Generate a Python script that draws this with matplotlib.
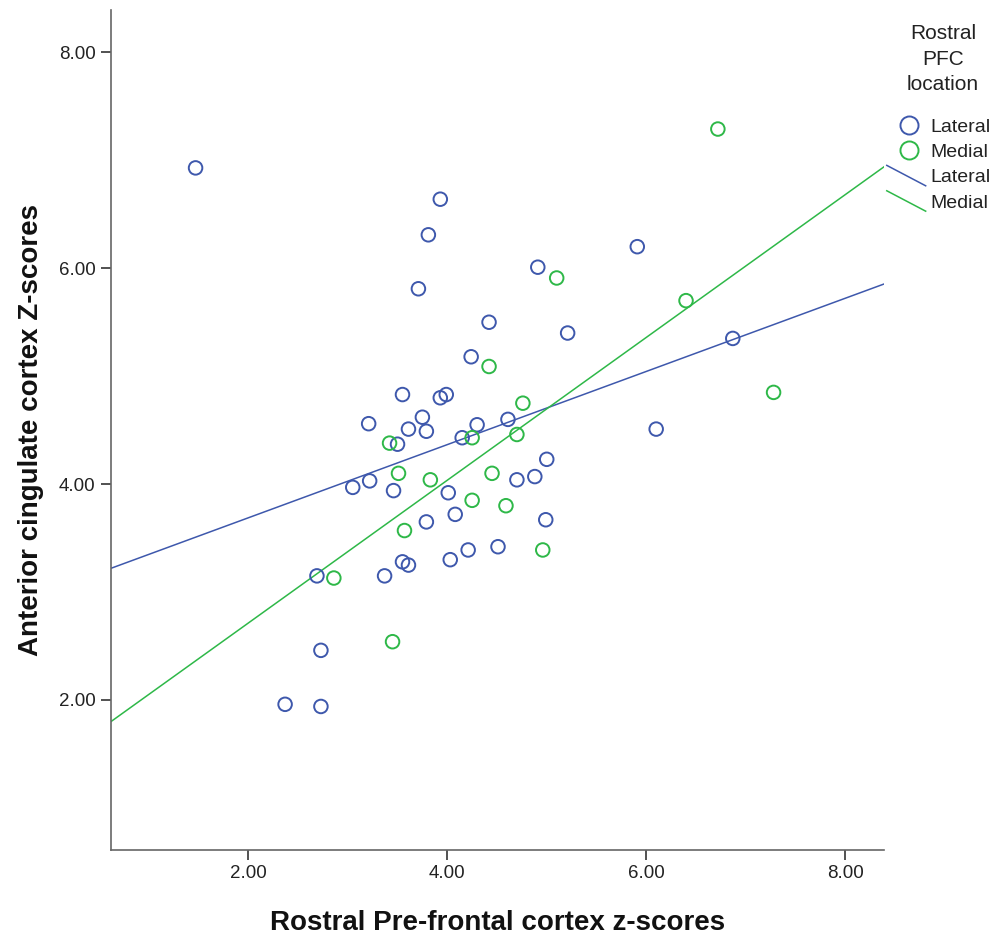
import matplotlib.pyplot as plt
from matplotlib.lines import Line2D
from matplotlib.legend_handler import HandlerBase
import numpy as np

plt.rcParams['font.family'] = ['Liberation Sans', 'DejaVu Sans']

# Lateral rostral PFC
lat_x = [1.47, 3.93, 3.81, 3.71, 4.42, 4.24, 3.55, 3.93, 3.99, 3.21, 3.75,
         3.61, 3.79, 4.30, 4.15, 3.50, 4.61, 5.00, 3.05, 3.22, 3.46, 4.01,
         4.70, 4.88, 4.08, 3.79, 4.99, 4.51, 4.21, 4.03, 3.55, 3.61, 3.37,
         2.69, 2.73, 2.37, 2.73, 5.91, 4.91, 5.21, 6.87, 6.10]
lat_y = [6.93, 6.64, 6.31, 5.81, 5.50, 5.18, 4.83, 4.80, 4.83, 4.56, 4.62,
         4.51, 4.49, 4.55, 4.43, 4.37, 4.60, 4.23, 3.97, 4.03, 3.94, 3.92,
         4.04, 4.07, 3.72, 3.65, 3.67, 3.42, 3.39, 3.30, 3.28, 3.25, 3.15,
         3.15, 2.46, 1.96, 1.94, 6.20, 6.01, 5.40, 5.35, 4.51]

# Medial rostral PFC
med_x = [4.42, 4.25, 3.42, 4.70, 4.76, 3.51, 3.83, 4.45, 4.25, 4.59, 3.57,
         4.96, 2.86, 3.45, 6.72, 5.10, 6.40, 7.28]
med_y = [5.09, 4.43, 4.38, 4.46, 4.75, 4.10, 4.04, 4.10, 3.85, 3.80, 3.57,
         3.39, 3.13, 2.54, 7.29, 5.91, 5.70, 4.85]

# fit lines (intercept, slope)
fit_lat = (3.01, 0.339)
fit_med = (1.39, 0.6615)

blue = '#3E58AC'
green = '#2EB848'

xlim = (0.62, 8.39)
ylim = (0.61, 8.39)


class DiagHandler(HandlerBase):
    # legend handle drawn as a short diagonal segment
    def create_artists(self, legend, orig_handle, xdescent, ydescent,
                       width, height, fontsize, trans):
        ln = Line2D([-xdescent - 0.2 * width, width - xdescent + 0.05 * width],
                    [height + 0.25 * height, -0.25 * height],
                    color=orig_handle.get_color(),
                    lw=orig_handle.get_linewidth(), transform=trans)
        return [ln]


fig = plt.figure(figsize=(10, 9.38), dpi=100)
ax = fig.add_axes([0.111, 0.0938, 0.773, 0.8952])

ax.scatter(lat_x, lat_y, s=95, facecolors='none', edgecolors=blue,
           linewidths=1.4, zorder=3)
ax.scatter(med_x, med_y, s=95, facecolors='none', edgecolors=green,
           linewidths=1.4, zorder=3)

xx = np.array(xlim)
ax.plot(xx, fit_lat[0] + fit_lat[1] * xx, color=blue, lw=1.1, zorder=2)
ax.plot(xx, fit_med[0] + fit_med[1] * xx, color=green, lw=1.1, zorder=2)

ax.set_xlim(xlim)
ax.set_ylim(ylim)
ax.set_xticks([2, 4, 6, 8])
ax.set_yticks([2, 4, 6, 8])
ax.set_xticklabels(['2.00', '4.00', '6.00', '8.00'])
ax.set_yticklabels(['2.00', '4.00', '6.00', '8.00'])

for s in ['top', 'right']:
    ax.spines[s].set_visible(False)
for s in ['left', 'bottom']:
    ax.spines[s].set_color('#666666')
    ax.spines[s].set_linewidth(1.2)
ax.tick_params(direction='out', length=7, width=1.2, color='#333333',
               labelsize=13.5, labelcolor='#222222', pad=4)

ax.set_xlabel('Rostral Pre-frontal cortex z-scores', fontsize=20,
              fontweight='bold', labelpad=20, color='#111111')
ax.set_ylabel('Anterior cingulate cortex Z-scores', fontsize=20,
              fontweight='bold', labelpad=11, color='#111111')

# legend title drawn separately so spacing matches
fig.text(0.943, 1 - 24 / 938, 'Rostral\nPFC\nlocation', ha='center',
         va='top', fontsize=15, linespacing=1.45, color='#222222')

h1 = Line2D([], [], marker='o', ls='none', markersize=13,
            markerfacecolor='none', markeredgecolor=blue, markeredgewidth=1.4)
h2 = Line2D([], [], marker='o', ls='none', markersize=13,
            markerfacecolor='none', markeredgecolor=green, markeredgewidth=1.4)
h3 = Line2D([], [], color=blue, lw=1.1)
h4 = Line2D([], [], color=green, lw=1.1)
leg = fig.legend([h1, h2, h3, h4], ['Lateral', 'Medial', 'Lateral', 'Medial'],
                 loc='upper left', bbox_to_anchor=(0.893, 1 - 118 / 938),
                 frameon=False, fontsize=14, handlelength=1.6,
                 handletextpad=0.3, labelspacing=0.4, borderaxespad=0,
                 borderpad=0, handler_map={h3: DiagHandler(), h4: DiagHandler()})
for t in leg.get_texts():
    t.set_color('#222222')

fig.savefig('out.png', dpi=100)
